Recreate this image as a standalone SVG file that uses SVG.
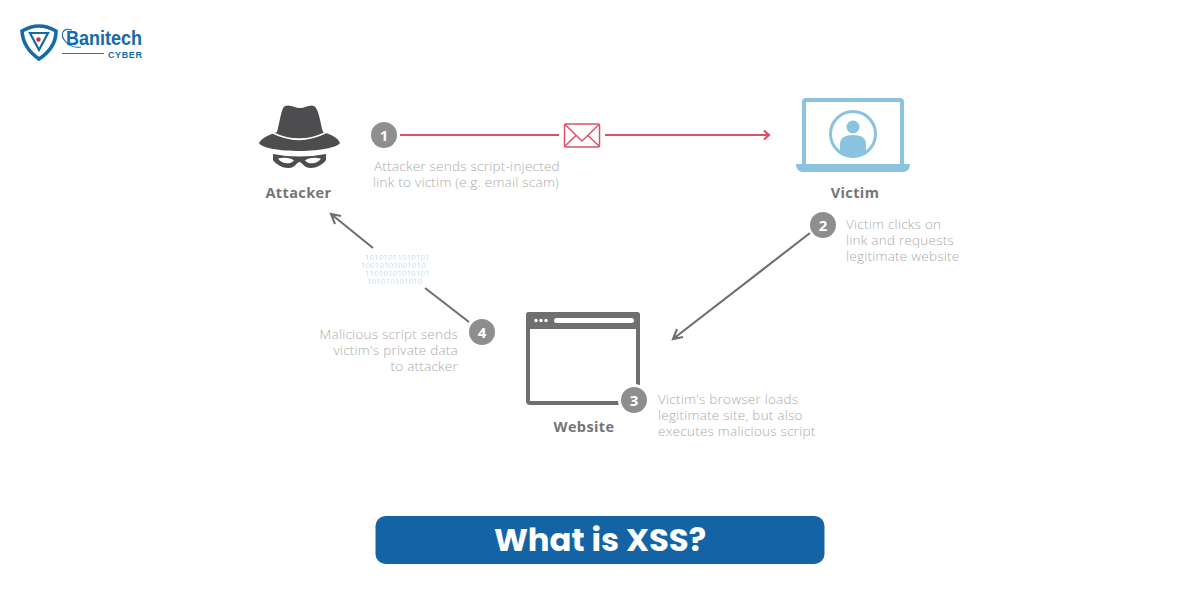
<svg xmlns="http://www.w3.org/2000/svg" width="1200" height="600" viewBox="0 0 1200 600">
<style>
.cap{font:300 13.500px "Open Sans",sans-serif;fill:#ababab;letter-spacing:.24px}
.name{font:700 14.500px "Open Sans",sans-serif;fill:#757575;text-anchor:middle;letter-spacing:.4px}
.num{font:700 15px "Open Sans",sans-serif;fill:#fff;text-anchor:middle}
.badge{fill:#8e8e90}
.bin{font:300 7.600px "Open Sans",sans-serif;fill:#8cc4e0;letter-spacing:.3px}
.red{stroke:#dc5068;stroke-width:2.200;fill:none}
.gr{stroke:#6f6f6f;stroke-width:2.100;fill:none}
</style>
<rect width="1200" height="600" fill="#fff"/>
<g id="logo">
<path d="M22 31Q39 21 56 31Q56 48 39 59Q23 48 22 31Z" fill="none" stroke="#156aa8" stroke-width="3.600"/>
<path d="M30 33L48 33L39 50Z" fill="none" stroke="#156aa8" stroke-width="2.200"/>
<circle cx="38.500" cy="39.500" r="2.200" fill="#c8303f"/>
<path d="M72 30C62 27 60 35 65 41C69 46 75 48 81 47" fill="none" stroke="#156aa8" stroke-width="1.100"/>
<text x="66" y="45" font-family="'Liberation Sans',sans-serif" font-size="20" font-weight="700" fill="#156aa8" textLength="76" lengthAdjust="spacingAndGlyphs">Banitech</text>
<line x1="62" y1="53.500" x2="104" y2="53.500" stroke="#b8404f" stroke-width="1"/>
<text x="108" y="57.500" font-family="'Liberation Sans',sans-serif" font-size="9" font-weight="700" fill="#156aa8" textLength="34">CYBER</text>
</g>
<g id="connectors">
<line class="red" x1="400" y1="135" x2="559" y2="135"/>
<line class="red" x1="605" y1="135" x2="768" y2="135"/>
<path class="red" d="M764 130.500L769 135L764 139.500"/>
<path class="gr" d="M810 233L673 339M683 337L673 339L677 329"/>
<path class="gr" d="M373 248L331 214M341 216L331 214L335 224"/>
<line class="gr" x1="425" y1="288" x2="469" y2="322"/>
</g>
<g id="attacker">
<path d="M259 143C262 137 272 134 277 132C280 122 281 108 285 106C290 104 295 108 300 108C305 108 310 104 314 106C319 109 320 122 323 132C329 134 338 137 340 143C338 147 320 151 300 151C280 151 261 148 259 143Z" fill="#4d4d4f"/>
<path d="M272 132.500Q299 146 326 132.500" fill="none" stroke="#fff" stroke-width="1.800"/>
<path fill-rule="evenodd" fill="#4d4d4f" d="M273 154Q299 159 326 154L326 160C322 166 312 170 306 167C303 165 301 162 299.500 162C298 162 296 165 293 167C287 170 277 166 273 160ZM278 158.500C281 164 290 165 294 160.500C291 157.500 284 157 278 158.500ZM305 160.500C309 165 318 164 321 158.500C315 157 308 157.500 305 160.500Z"/>
<text class="name" x="298.500" y="198">Attacker</text>
</g>
<g id="victim">
<rect x="804" y="100" width="98" height="66" rx="2" fill="#fff" stroke="#8ac3e0" stroke-width="4"/>
<path d="M796 164H910C910 169 907 172 903 172H803C799 172 796 169 796 164Z" fill="#8ac3e0"/>
<circle cx="853" cy="134" r="22.500" fill="#fff" stroke="#8ac3e0" stroke-width="3"/>
<circle cx="853" cy="127" r="6.500" fill="#8ac3e0"/>
<path d="M840 154V144C840 138 845 135 853 135C861 135 866 138 866 144V154Q853 160 840 154Z" fill="#8ac3e0"/>
<text class="name" x="855" y="198">Victim</text>
</g>
<g id="envelope">
<rect class="red" x="564.500" y="124" width="35" height="23" rx="1.500" style="stroke-width:1.500"/>
<path class="red" style="stroke-width:1.500" d="M565 124.500L582 141L599 124.500M565 146L576 135.500M599 146L588 135.500"/>
</g>
<g id="website">
<rect x="528" y="314" width="110" height="89" rx="2" fill="#fff" stroke="#6f6f6f" stroke-width="4"/>
<rect x="526" y="312" width="114" height="17" rx="3" fill="#6f6f6f"/>
<circle cx="536" cy="320.500" r="1.700" fill="#fff"/>
<circle cx="541" cy="320.500" r="1.700" fill="#fff"/>
<circle cx="546" cy="320.500" r="1.700" fill="#fff"/>
<rect x="554" y="318" width="80" height="5" rx="2.500" fill="#fff"/>
<circle cx="634" cy="400" r="16" fill="#fff"/>
<text class="name" x="584" y="432">Website</text>
</g>
<g id="badges">
<circle class="badge" cx="384" cy="135" r="13"/><text class="num" x="384" y="140.500">1</text>
<circle class="badge" cx="823" cy="225" r="13"/><text class="num" x="823" y="230.500">2</text>
<circle class="badge" cx="634" cy="400" r="13"/><text class="num" x="634" y="405.500">3</text>
<circle class="badge" cx="482" cy="332" r="13"/><text class="num" x="482" y="337.500">4</text>
</g>
<g id="captions">
<text class="cap" x="374" y="171">Attacker sends script-injected</text>
<text class="cap" x="373" y="187">link to victim (e.g. email scam)</text>
<text class="cap" x="846" y="229">Victim clicks on</text>
<text class="cap" x="846" y="245">link and requests</text>
<text class="cap" x="846" y="261">legitimate website</text>
<text class="cap" x="458" y="339" text-anchor="end">Malicious script sends</text>
<text class="cap" x="458" y="355" text-anchor="end">victim's private data</text>
<text class="cap" x="458" y="371" text-anchor="end">to attacker</text>
<text class="cap" x="658" y="404">Victim's browser loads</text>
<text class="cap" x="658" y="420">legitimate site, but also</text>
<text class="cap" x="658" y="436">executes malicious script</text>
</g>
<g id="binary">
<text class="bin" x="365" y="260">10101011010101</text>
<text class="bin" x="361" y="268">10010101001010</text>
<text class="bin" x="365" y="276">11010101010101</text>
<text class="bin" x="367" y="284">101010101010</text>
</g>
<g id="title">
<rect x="375.500" y="516" width="449" height="48" rx="10" fill="#1464a5"/>
<text x="600" y="551" text-anchor="middle" font-family="Poppins,'Open Sans',sans-serif" font-size="32.300" font-weight="700" fill="#fff">What is XSS?</text>
</g>
</svg>
